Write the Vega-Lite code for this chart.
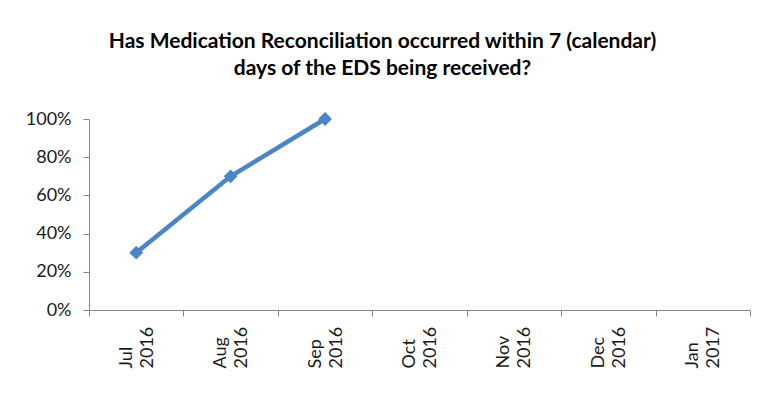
{
  "$schema": "https://vega.github.io/schema/vega-lite/v6.json",
  "width": 661,
  "height": 191,
  "autosize": {"type": "none"},
  "padding": {"left": 89, "top": 119, "right": 14, "bottom": 93},
  "background": "white",
  "title": {
    "text": ["Has Medication Reconciliation occurred within 7 (calendar)", "days of the EDS being received?"],
    "font": "Lato",
    "fontSize": 21,
    "fontWeight": "bold",
    "color": "#000000",
    "anchor": "middle",
    "frame": "group",
    "dx": -37,
    "offset": 31,
    "lineHeight": 27
  },
  "data": {
    "values": [
      {"month": "Jul 2016", "value": 0.3},
      {"month": "Aug 2016", "value": 0.7},
      {"month": "Sep 2016", "value": 1.0}
    ]
  },
  "mark": {
    "type": "line",
    "color": "#4a85c8",
    "strokeWidth": 4.5,
    "point": {"shape": "diamond", "size": 190, "filled": true, "color": "#4a85c8", "opacity": 1}
  },
  "encoding": {
    "x": {
      "field": "month",
      "type": "ordinal",
      "sort": null,
      "scale": {
        "domain": ["Jul 2016", "Aug 2016", "Sep 2016", "Oct 2016", "Nov 2016", "Dec 2016", "Jan 2017"],
        "paddingInner": 0,
        "paddingOuter": 0
      },
      "axis": {
        "title": null,
        "labelAngle": -90,
        "labelAlign": "left",
        "labelBaseline": "middle",
        "labelPadding": 52,
        "labelOffset": -10,
        "labelOverlap": false,
        "labelBound": false,
        "labelFlush": false,
        "tickSize": 6,
        "tickBand": "extent",
        "domainColor": "#868686",
        "tickColor": "#868686",
        "labelFont": "Lato",
        "labelFontSize": 18,
        "labelColor": "#1a1a1a",
        "labelLineHeight": 21,
        "labelExpr": "split(datum.label, ' ')"
      }
    },
    "y": {
      "field": "value",
      "type": "quantitative",
      "scale": {"domain": [0, 1], "nice": false, "zero": true},
      "axis": {
        "title": null,
        "format": ".0%",
        "values": [0, 0.2, 0.4, 0.6, 0.8, 1.0],
        "grid": false,
        "tickSize": 6,
        "labelPadding": 12,
        "domainColor": "#868686",
        "tickColor": "#868686",
        "labelFont": "Lato",
        "labelFontSize": 18,
        "labelColor": "#1a1a1a"
      }
    }
  },
  "config": {"view": {"stroke": null}}
}
